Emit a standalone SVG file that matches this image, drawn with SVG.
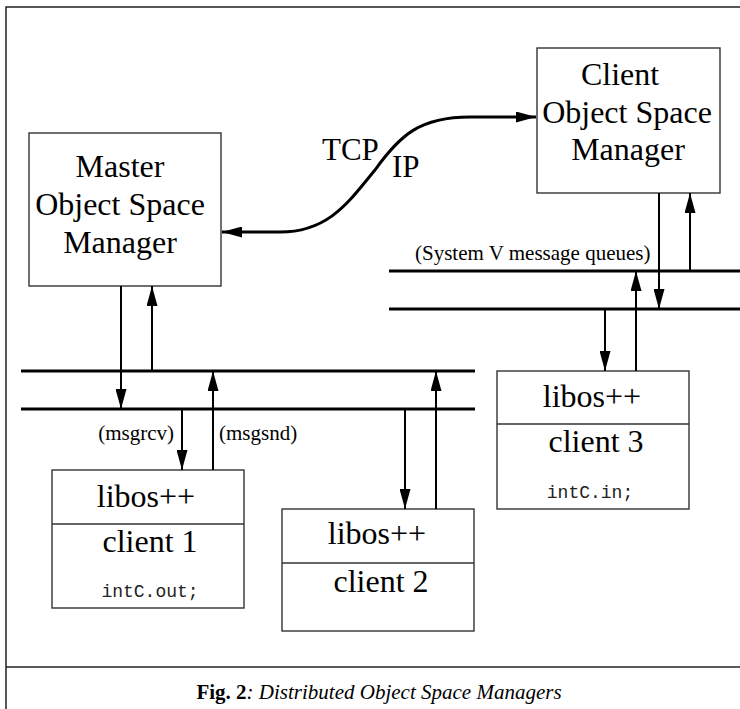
<svg xmlns="http://www.w3.org/2000/svg" width="740" height="709" viewBox="0 0 740 709">
<style>
.frame{stroke:#222;stroke-width:1.5;fill:none}
.box{fill:#fff;stroke:#333;stroke-width:1.4}
.bus{stroke:#000;stroke-width:3;fill:none}
.con{stroke:#000;stroke-width:2;fill:none}
.big{font-family:"Liberation Serif","Times New Roman",serif;font-size:32px;fill:#000;text-anchor:middle}
.sm{font-family:"Liberation Serif","Times New Roman",serif;font-size:21px;fill:#000}
.mono{font-family:"Liberation Mono","Courier New",monospace;font-size:18px;fill:#222;text-anchor:middle}
.cap{font-family:"Liberation Serif","Times New Roman",serif;font-size:21px;fill:#000;text-anchor:middle}
</style>
<defs>
<marker id="ah" viewBox="0 0 20 11" refX="20" refY="5.5" markerWidth="20" markerHeight="11" markerUnits="userSpaceOnUse" orient="auto">
<path d="M0,0 L20,5.5 L0,11 z" fill="#000"/>
</marker>
<marker id="ahs" viewBox="0 0 20 11" refX="20" refY="5.5" markerWidth="20" markerHeight="11" markerUnits="userSpaceOnUse" orient="auto-start-reverse">
<path d="M0,0 L20,5.5 L0,11 z" fill="#000"/>
</marker>
</defs>
<rect width="740" height="709" fill="#fff"/>
<g id="frame">
<path class="frame" d="M740,7 H6 V709"/>
<path class="frame" d="M6,667 H740"/>
</g>
<g id="buses">
<path class="bus" d="M21,371 H475 M21,409 H475"/>
<path class="bus" d="M389,271 H740 M389,309 H740"/>
<text class="sm" x="415" y="260">(System V message queues)</text>
</g>
<g id="master">
<rect class="box" x="29" y="133" width="192" height="153"/>
<text class="big" x="120" y="177">Master</text>
<text class="big" x="120" y="215">Object Space</text>
<text class="big" x="120" y="253">Manager</text>
</g>
<g id="clientosm">
<rect class="box" x="537" y="48" width="183" height="145"/>
<text class="big" x="620" y="85">Client</text>
<text class="big" x="627" y="123">Object Space</text>
<text class="big" x="628" y="160">Manager</text>
</g>
<g id="client1">
<rect class="box" x="52" y="470" width="192" height="138"/>
<line class="box" x1="52" y1="524" x2="244" y2="524"/>
<text class="big" x="146" y="507">libos++</text>
<text class="big" x="150" y="552">client 1</text>
<text class="mono" x="150" y="597">intC.out;</text>
</g>
<g id="client2">
<rect class="box" x="282" y="509" width="192" height="122"/>
<line class="box" x1="282" y1="563" x2="474" y2="563"/>
<text class="big" x="377" y="544">libos++</text>
<text class="big" x="381" y="592">client 2</text>
</g>
<g id="client3">
<rect class="box" x="497" y="371" width="192" height="138"/>
<line class="box" x1="497" y1="424" x2="689" y2="424"/>
<text class="big" x="592" y="407">libos++</text>
<text class="big" x="596" y="452">client 3</text>
<text class="mono" x="590" y="498">intC.in;</text>
</g>
<g id="connectors">
<line class="con" x1="121" y1="286" x2="121" y2="409" marker-end="url(#ah)"/>
<line class="con" x1="152" y1="371" x2="152" y2="286" marker-end="url(#ah)"/>
<line class="con" x1="182" y1="409" x2="182" y2="470" marker-end="url(#ah)"/>
<line class="con" x1="213" y1="470" x2="213" y2="371" marker-end="url(#ah)"/>
<line class="con" x1="405" y1="409" x2="405" y2="509" marker-end="url(#ah)"/>
<line class="con" x1="436" y1="509" x2="436" y2="371" marker-end="url(#ah)"/>
<line class="con" x1="659" y1="193" x2="659" y2="309" marker-end="url(#ah)"/>
<line class="con" x1="690" y1="271" x2="690" y2="193" marker-end="url(#ah)"/>
<line class="con" x1="605" y1="309" x2="605" y2="371" marker-end="url(#ah)"/>
<line class="con" x1="636" y1="371" x2="636" y2="271" marker-end="url(#ah)"/>
<path class="con" style="stroke-width:3" d="M222,232 L280,232 C330,232 350,200 375,170 C400,135 420,117 470,117 L536,117" marker-start="url(#ahs)" marker-end="url(#ah)"/>
<text class="sm" x="174" y="440" text-anchor="end">(msgrcv)</text>
<text class="sm" x="219" y="440">(msgsnd)</text>
<text class="big" x="322" y="160" style="text-anchor:start;font-size:31px">TCP</text>
<text class="big" x="392" y="177" style="text-anchor:start;font-size:31px">IP</text>
</g>
<text class="cap" x="379" y="699"><tspan font-weight="bold">Fig. 2</tspan><tspan font-style="italic">: Distributed Object Space Managers</tspan></text>
</svg>
